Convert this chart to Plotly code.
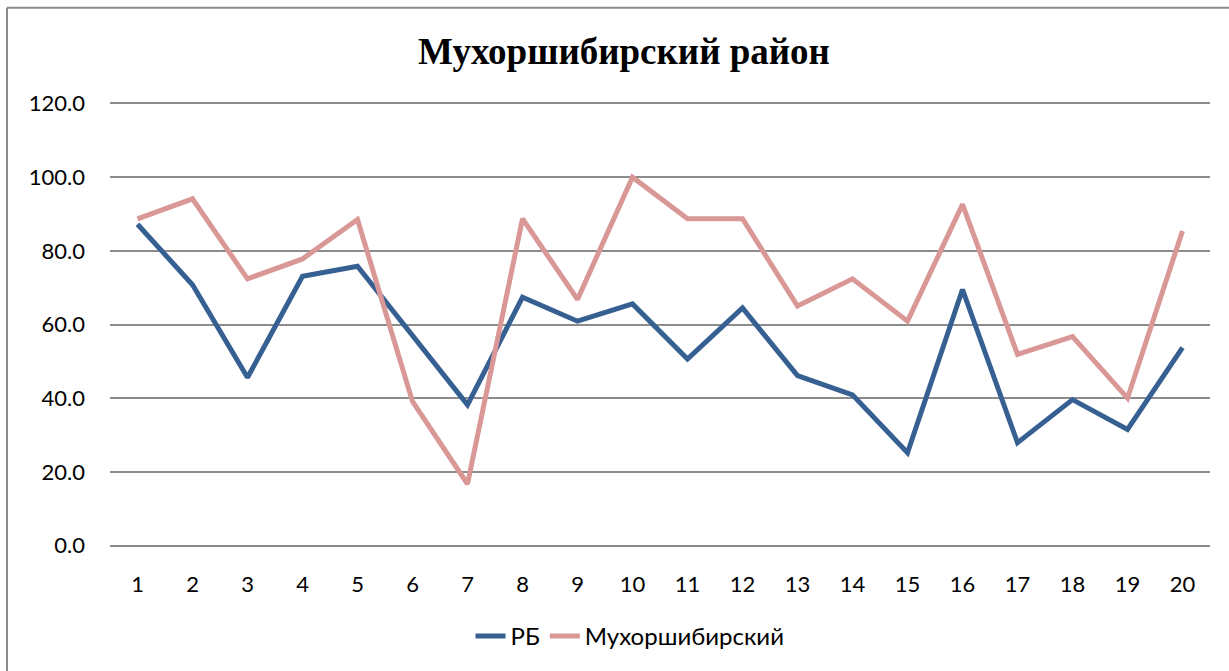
import plotly.graph_objects as go

categories = [str(i) for i in range(1, 21)]
rb = [87.2, 70.8, 45.6, 73.1, 75.8, 57.0, 38.2, 67.4, 60.9, 65.6,
      50.6, 64.5, 46.1, 40.9, 25.2, 69.5, 27.9, 39.6, 31.5, 53.7]
mukh = [88.7, 94.1, 72.4, 77.8, 88.5, 39.1, 16.7, 88.7, 66.8, 100.0,
        88.7, 88.7, 65.0, 72.4, 60.9, 92.6, 51.9, 56.7, 40.0, 85.4]
y_ticks = [0, 20, 40, 60, 80, 100, 120]

W, H = 1229, 671
L, R, T, B = 110, 19, 102, 121
pw, ph = W - L - R, H - T - B

def px(x):
    return (x - L) / pw

def py(y):
    return (H - B - y) / ph

fig = go.Figure()
fig.add_trace(go.Scatter(x=categories, y=rb, mode="lines", name="РБ",
                         line=dict(color="#376092", width=5)))
fig.add_trace(go.Scatter(x=categories, y=mukh, mode="lines", name="Мухоршибирский",
                         line=dict(color="#D99795", width=5)))

fig.update_layout(
    width=W, height=H,
    margin=dict(l=L, r=R, t=T, b=B),
    paper_bgcolor="white", plot_bgcolor="white",
    title=dict(text="<b>Мухоршибирский район</b>", x=624 / W, xanchor="center",
               y=1 - 51 / H, yanchor="middle", xref="container",
               font=dict(family="Liberation Serif", size=37, color="black")),
    font=dict(family="Lato", size=22, color="black"),
    showlegend=True,
    legend=dict(orientation="h", x=px(630), xanchor="center", y=py(640), yanchor="middle",
                font=dict(family="Lato", size=24, color="black"),
                tracegroupgap=0),
    xaxis=dict(type="category", range=[-0.5, 19.5], showgrid=False, showline=False,
               ticks="", tickfont=dict(size=22), ticklabelstandoff=22, zeroline=False),
    yaxis=dict(range=[-0.4, 120.4], tickvals=y_ticks, ticktext=[f"{v:.1f}" for v in y_ticks],
               showgrid=True, gridcolor="#8C8C8C", gridwidth=2, zeroline=False,
               showline=False, ticks="", tickfont=dict(size=22), ticklabelstandoff=24),
    shapes=[
        dict(type="line", xref="paper", yref="paper", x0=px(7), x1=px(7), y0=py(7), y1=py(H + 5),
             line=dict(color="#8C8C8C", width=2)),
        dict(type="line", xref="paper", yref="paper", x0=px(7), x1=px(W + 5), y0=py(7), y1=py(7),
             line=dict(color="#8C8C8C", width=2)),
    ],
)

fig.write_html("out.html", config={"displayModeBar": False},
               post_script="document.body.style.margin='0';")
